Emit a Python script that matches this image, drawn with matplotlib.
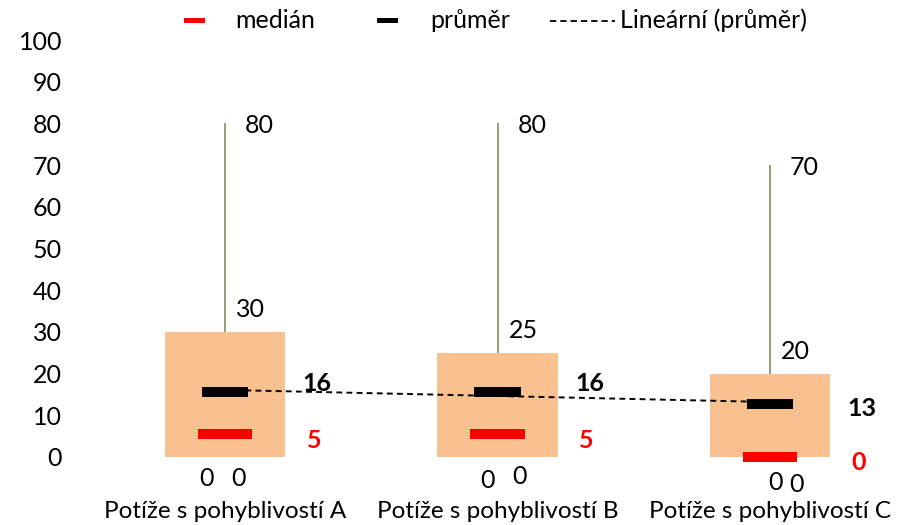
import numpy as np
import matplotlib
matplotlib.use("Agg")
import matplotlib.pyplot as plt
from matplotlib.lines import Line2D

plt.rcParams['font.family'] = ['Lato', 'DejaVu Sans']

categories = ["Potíže s pohyblivostí A", "Potíže s pohyblivostí B", "Potíže s pohyblivostí C"]
low = [0, 0, 0]
high = [80, 80, 70]
box_low = [0, 0, 0]
box_high = [30, 25, 20]
mean = [15.6, 15.6, 12.7]
median = [5.4, 5.4, 0.0]
yticks = list(range(0, 101, 10))

W, H, DPI = 915, 525, 100
fig = plt.figure(figsize=(W / DPI, H / DPI), dpi=DPI)
L, R, B, T = 89, 906, 457, 40
ax = fig.add_axes([L / W, (H - B) / H, (R - L) / W, (B - T) / H])
ax.set_xlim(-0.5, 2.5)
ax.set_ylim(0, 100)
for s in ax.spines.values():
    s.set_visible(False)

PT = 72 / DPI  # px -> pt
FS = 18
box_color = "#F9C18F"
whisk_color = "#8A9A6E"

x = np.arange(len(categories))
box_w = 120 / 272
for i in x:
    ax.vlines(i, low[i], high[i], color=whisk_color, lw=1.3, zorder=1)
    ax.bar(i, box_high[i] - box_low[i], bottom=box_low[i], width=box_w,
           color=box_color, edgecolor="none", zorder=1.5)

# means and medians
mean_w = 46 / 272
med_w = 54 / 272
ax.hlines(mean, x - mean_w / 2, x + mean_w / 2, color="black", lw=10 * PT, zorder=4, clip_on=False)
ax.hlines(median, x - med_w / 2, x + med_w / 2, color="#FF0000", lw=10 * PT, zorder=4, clip_on=False)

# linear trend of means
coef = np.polyfit(x, mean, 1)
xt = np.array([0, 2])
ax.plot(xt, np.polyval(coef, xt), color="black", lw=1.4, ls=(0, (3, 2.2)), zorder=3)

# labels
low_dx = [-19, -10, 6]
low_dy = [-21, -24, -25]
bl_dx = [13, 22, 27]
bl_dy = [-21, -20, -27]
for i in x:
    ax.annotate(f"{high[i]}", (i, high[i]), xytext=(20 * PT, -2 * PT), textcoords="offset points",
                ha="left", va="center", fontsize=FS)
    ax.annotate(f"{box_high[i]}", (i, box_high[i]), xytext=(11 * PT, 22 * PT), textcoords="offset points",
                ha="left", va="center", fontsize=FS)
    ax.annotate(f"{mean[i]:.0f}", (i, mean[i]), xytext=(92 * PT, 8 * PT if i < 2 else -4 * PT),
                textcoords="offset points", ha="center", va="center", fontsize=FS, fontweight="bold")
    ax.annotate(f"{median[i]:.0f}", (i, median[i]), xytext=(89 * PT, -6 * PT), textcoords="offset points",
                ha="center", va="center", fontsize=FS, fontweight="bold", color="#FF0000")
    ax.annotate(f"{low[i]}", (i, low[i]), xytext=(low_dx[i] * PT, low_dy[i] * PT), textcoords="offset points",
                ha="center", va="center", fontsize=FS)
    ax.annotate(f"{box_low[i]}", (i, box_low[i]), xytext=(bl_dx[i] * PT, bl_dy[i] * PT), textcoords="offset points",
                ha="center", va="center", fontsize=FS)

ax.set_yticks(yticks)
ax.set_yticklabels([str(v) for v in yticks], fontsize=FS)
ax.tick_params(axis="y", length=0, pad=27 * PT)
ax.set_xticks(x)
ax.set_xticklabels(categories, fontsize=17.5)
ax.tick_params(axis="x", length=0, pad=44 * PT)

# legend
def fx(px):
    return px / W
def fy(py):
    return 1 - py / H
ly = 20
fig.add_artist(Line2D([fx(186), fx(202)], [fy(ly), fy(ly)], color="#FF0000", lw=5 * PT))
fig.text(fx(235), fy(ly), "medián", fontsize=FS, va="center", ha="left")
fig.add_artist(Line2D([fx(379), fx(395)], [fy(ly), fy(ly)], color="black", lw=5 * PT))
fig.text(fx(430), fy(ly), "průměr", fontsize=FS, va="center", ha="left")
fig.add_artist(Line2D([fx(550), fx(615)], [fy(ly + 1), fy(ly + 1)], color="black", lw=1.3, ls=(0, (3.5, 2.2))))
fig.text(fx(620), fy(ly), "Lineární (průměr)", fontsize=FS, va="center", ha="left")

fig.savefig("out.png", dpi=DPI)
